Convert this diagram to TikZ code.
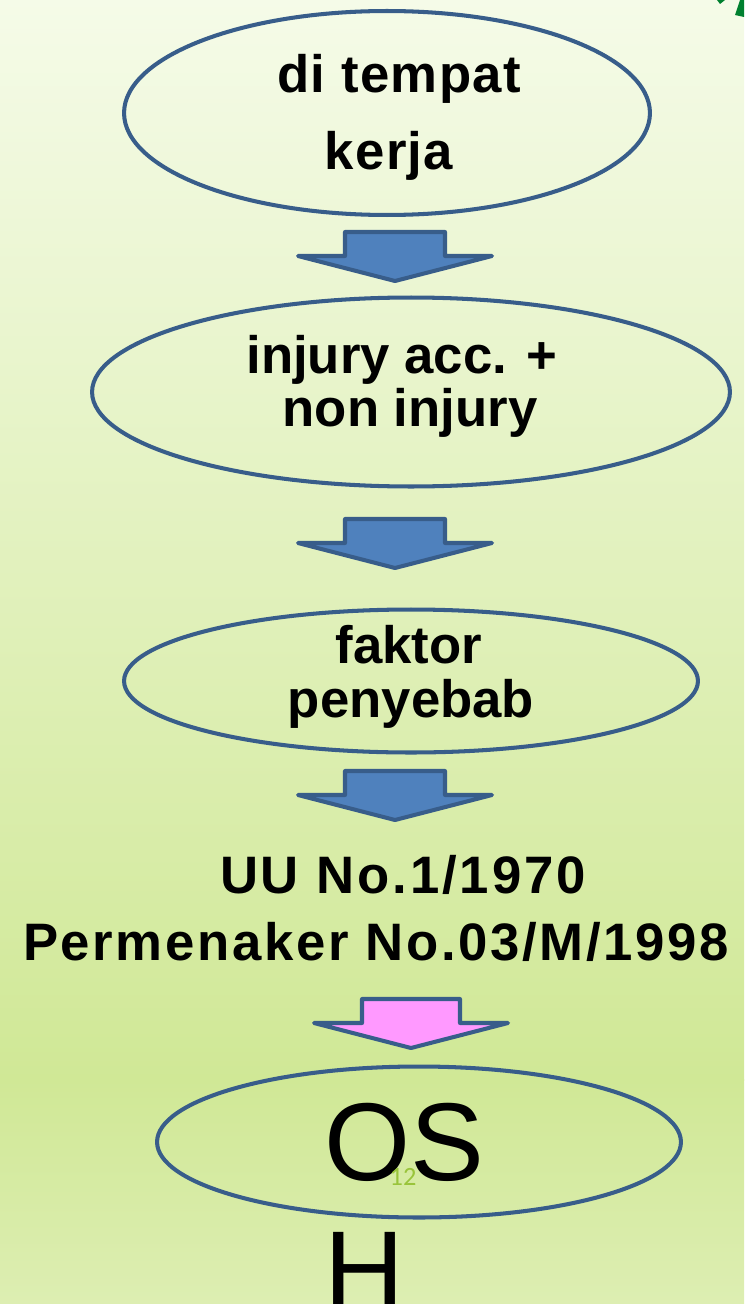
\documentclass[tikz,border=0pt]{standalone}
\usepackage{fontspec}
\setmainfont{Liberation Sans}
\newfontfamily\numfont{Carlito}
\usetikzlibrary{shapes.geometric}
\definecolor{bgtop}{RGB}{245,251,232}
\definecolor{bgmid}{RGB}{208,232,150}
\definecolor{bgbot}{RGB}{221,238,178}
\definecolor{ellblue}{RGB}{56,93,138}
\definecolor{arrblue}{RGB}{79,129,189}
\definecolor{arrpink}{RGB}{255,153,255}
\definecolor{numgreen}{RGB}{153,196,58}
\definecolor{cornergreen}{RGB}{0,128,47}

\begin{document}
\begin{tikzpicture}[x=0.02cm, y=-0.02cm,
        ell/.style={ellipse, draw=ellblue, line width=2.3pt, inner sep=0pt},
        txt/.style={anchor=base, inner sep=0pt, font=\fontsize{30}{36}\selectfont\bfseries},
        wide/.style={txt, font=\fontsize{30}{36}\selectfont\bfseries\addfontfeatures{LetterSpace=#1}},
        big/.style={anchor=base west, inner sep=0pt, font=\fontsize{63}{73}\selectfont},
        pics/downarrow/.style 2 args={code={
          \draw[draw=ellblue, line width=2.3pt, line join=round, fill=#1]
            (-#2,0) -- (#2,0) -- (#2,24) -- (97,24) -- (0,49)
            -- (-97,24) -- (-#2,24) -- cycle;}}
      ]
        \useasboundingbox (0,0) rectangle (744,1304);
        \clip (0,0) rectangle (744,1304);

        % background
        \shade[top color=bgtop, bottom color=bgmid] (0,0) rectangle (744,1080);
        \shade[top color=bgmid, bottom color=bgbot] (0,1079) rectangle (744,1304);
        \fill[cornergreen] (717,0) -- (725,0) -- (720,4) -- cycle;
        \fill[cornergreen] (740,0) -- (744,0) -- (744,17) -- (735,15) -- cycle;

        % ellipses
        \node[ell, minimum width=10.52cm, minimum height=4.08cm] (tempat) at (387,113) {};
        \node[ell, minimum width=12.76cm, minimum height=3.78cm] (injury) at (411,392) {};
        \node[ell, minimum width=11.48cm, minimum height=2.86cm] (faktor) at (411,681) {};
        \node[ell, minimum width=10.48cm, minimum height=3.02cm] (osh) at (419,1142) {};

        % block arrows
        \pic at (395,232) {downarrow={arrblue}{50}};
        \pic at (395,519) {downarrow={arrblue}{50}};
        \pic at (395,771) {downarrow={arrblue}{50}};
        \pic at (411,999) {downarrow={arrpink}{49}};

        % texts
        \node[wide=2.5] (t1a) at (399,93)  {di tempat};
        \node[wide=2.5] (t1b) at (389,170) {kerja};
        \node[txt] (t2a) at (402,373) {injury acc. +};
        \node[txt] (t2b) at (410,426) {non injury};
        \node[txt] (t3a) at (409,663) {faktor};
        \node[txt] (t3b) at (411,717) {penyebab};
        \node[wide=5.5] (uu)  at (403,893) {UU No.1/1970};
        \node[wide=5] (pm)  at (376,960) {Permenaker No.03/M/1998};
        \node[big] (os)  at (324,1180) {OS};
        \node[big] (h)   at (324,1308) {H};
        \node[anchor=base, inner sep=0pt, text=numgreen,
              font=\numfont\fontsize{15}{18}\selectfont] (num) at (403,1185) {12};
      \end{tikzpicture}
\end{document}
